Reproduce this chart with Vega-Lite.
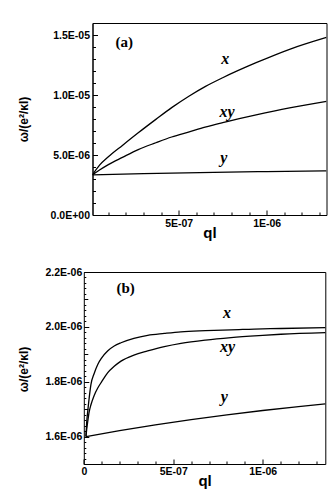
{
  "$schema": "https://vega.github.io/schema/vega-lite/v6.json",
  "background": "white",
  "padding": {"left": 16.5, "top": 22, "right": 0, "bottom": 0},
  "datasets": {
    "a": [
      {"q": 1e-8, "w": 3.35e-6, "s": "x"}, {"q": 5e-8, "w": 4.15e-6, "s": "x"}, {"q": 1e-7, "w": 4.85e-6, "s": "x"},
      {"q": 1.8e-7, "w": 5.8e-6, "s": "x"}, {"q": 2.7e-7, "w": 6.85e-6, "s": "x"}, {"q": 3.7e-7, "w": 7.97e-6, "s": "x"},
      {"q": 4.6e-7, "w": 8.95e-6, "s": "x"}, {"q": 5.6e-7, "w": 9.92e-6, "s": "x"}, {"q": 6.5e-7, "w": 1.07e-5, "s": "x"},
      {"q": 7.5e-7, "w": 1.144e-5, "s": "x"}, {"q": 9.4e-7, "w": 1.269e-5, "s": "x"}, {"q": 1.13e-6, "w": 1.381e-5, "s": "x"},
      {"q": 1.34e-6, "w": 1.48e-5, "s": "x"},
      {"q": 1e-8, "w": 3.35e-6, "s": "xy"}, {"q": 5e-8, "w": 3.75e-6, "s": "xy"}, {"q": 1e-7, "w": 4.2e-6, "s": "xy"},
      {"q": 1.8e-7, "w": 4.8e-6, "s": "xy"}, {"q": 2.7e-7, "w": 5.45e-6, "s": "xy"}, {"q": 3.7e-7, "w": 6.02e-6, "s": "xy"},
      {"q": 4.6e-7, "w": 6.5e-6, "s": "xy"}, {"q": 5.6e-7, "w": 6.93e-6, "s": "xy"}, {"q": 6.5e-7, "w": 7.32e-6, "s": "xy"},
      {"q": 7.5e-7, "w": 7.7e-6, "s": "xy"}, {"q": 9.4e-7, "w": 8.35e-6, "s": "xy"}, {"q": 1.13e-6, "w": 8.93e-6, "s": "xy"},
      {"q": 1.34e-6, "w": 9.47e-6, "s": "xy"},
      {"q": 1e-8, "w": 3.35e-6, "s": "y"}, {"q": 3e-7, "w": 3.45e-6, "s": "y"}, {"q": 7e-7, "w": 3.56e-6, "s": "y"},
      {"q": 1e-6, "w": 3.62e-6, "s": "y"}, {"q": 1.34e-6, "w": 3.68e-6, "s": "y"}
    ],
    "la": [
      {"q": 1.9e-7, "w": 1.44e-5, "t": "(a)", "k": "tag"},
      {"q": 7.65e-7, "w": 1.297e-5, "t": "x", "k": "c"},
      {"q": 7.75e-7, "w": 8.58e-6, "t": "xy", "k": "c"},
      {"q": 7.56e-7, "w": 4.78e-6, "t": "y", "k": "c"}
    ],
    "b": [
      {"q": 1.2e-8, "w": 1.6e-6, "s": "x"}, {"q": 1.6e-8, "w": 1.65e-6, "s": "x"}, {"q": 2.2e-8, "w": 1.692e-6, "s": "x"},
      {"q": 3e-8, "w": 1.74e-6, "s": "x"}, {"q": 4e-8, "w": 1.79e-6, "s": "x"}, {"q": 5.8e-8, "w": 1.83e-6, "s": "x"},
      {"q": 7.8e-8, "w": 1.863e-6, "s": "x"}, {"q": 1e-7, "w": 1.887e-6, "s": "x"}, {"q": 1.33e-7, "w": 1.912e-6, "s": "x"},
      {"q": 1.7e-7, "w": 1.93e-6, "s": "x"}, {"q": 2.08e-7, "w": 1.942e-6, "s": "x"}, {"q": 2.8e-7, "w": 1.958e-6, "s": "x"},
      {"q": 3.57e-7, "w": 1.969e-6, "s": "x"}, {"q": 4.5e-7, "w": 1.976e-6, "s": "x"}, {"q": 5.43e-7, "w": 1.982e-6, "s": "x"},
      {"q": 6.8e-7, "w": 1.986e-6, "s": "x"}, {"q": 8.23e-7, "w": 1.989e-6, "s": "x"}, {"q": 1e-6, "w": 1.993e-6, "s": "x"},
      {"q": 1.102e-6, "w": 1.994e-6, "s": "x"}, {"q": 1.35e-6, "w": 1.997e-6, "s": "x"},
      {"q": 1.2e-8, "w": 1.6e-6, "s": "xy"}, {"q": 1.6e-8, "w": 1.625e-6, "s": "xy"}, {"q": 2.2e-8, "w": 1.655e-6, "s": "xy"},
      {"q": 3e-8, "w": 1.69e-6, "s": "xy"}, {"q": 4e-8, "w": 1.716e-6, "s": "xy"}, {"q": 5.8e-8, "w": 1.75e-6, "s": "xy"},
      {"q": 7.8e-8, "w": 1.777e-6, "s": "xy"}, {"q": 1e-7, "w": 1.8e-6, "s": "xy"}, {"q": 1.33e-7, "w": 1.832e-6, "s": "xy"},
      {"q": 1.7e-7, "w": 1.856e-6, "s": "xy"}, {"q": 2.08e-7, "w": 1.875e-6, "s": "xy"}, {"q": 2.8e-7, "w": 1.897e-6, "s": "xy"},
      {"q": 3.57e-7, "w": 1.912e-6, "s": "xy"}, {"q": 4.5e-7, "w": 1.928e-6, "s": "xy"}, {"q": 5.43e-7, "w": 1.94e-6, "s": "xy"},
      {"q": 6.8e-7, "w": 1.952e-6, "s": "xy"}, {"q": 8.23e-7, "w": 1.961e-6, "s": "xy"}, {"q": 1e-6, "w": 1.969e-6, "s": "xy"},
      {"q": 1.102e-6, "w": 1.973e-6, "s": "xy"}, {"q": 1.35e-6, "w": 1.979e-6, "s": "xy"},
      {"q": 1.2e-8, "w": 1.6e-6, "s": "y"}, {"q": 2e-7, "w": 1.622e-6, "s": "y"}, {"q": 4e-7, "w": 1.643e-6, "s": "y"},
      {"q": 6e-7, "w": 1.662e-6, "s": "y"}, {"q": 8e-7, "w": 1.679e-6, "s": "y"}, {"q": 1e-6, "w": 1.695e-6, "s": "y"},
      {"q": 1.2e-6, "w": 1.709e-6, "s": "y"}, {"q": 1.35e-6, "w": 1.719e-6, "s": "y"}
    ],
    "lb": [
      {"q": 2.34e-7, "w": 2.14e-6, "t": "(b)", "k": "tag"},
      {"q": 8e-7, "w": 2.05e-6, "t": "x", "k": "c"},
      {"q": 8.04e-7, "w": 1.926e-6, "t": "xy", "k": "c"},
      {"q": 7.86e-7, "w": 1.745e-6, "t": "y", "k": "c"}
    ]
  },
  "concat": [
    {
      "width": 234,
      "height": 192,
      "resolve": {"axis": {"x": "independent", "y": "independent"}},
      "layer": [
        {
          "data": {"name": "a"},
          "mark": {"type": "line", "color": "black", "strokeWidth": 1.3, "interpolate": "monotone", "clip": true},
          "encoding": {
            "x": {"field": "q", "type": "quantitative", "scale": {"domain": [1e-8, 1.34e-6], "nice": false, "zero": false},
              "axis": {"orient": "bottom", "title": "ql", "titleFontSize": 15, "titlePadding": -3,
                "values": [5e-7, 1e-6],
                "labelExpr": "replace(format(datum.value, '.0e'), 'e-', 'E-0')",
                "tickSize": -5, "labelPadding": 8}},
            "y": {"field": "w", "type": "quantitative", "scale": {"domain": [0, 1.6e-5], "nice": false, "zero": false},
              "axis": {"orient": "left", "title": "ω/(e²/κl)", "titleFontSize": 12, "titleX": -62.5, "titleY": 96,
                "values": [0, 5e-6, 1e-5, 1.5e-5],
                "labelExpr": "replace(replace(format(datum.value, '.1e'), 'e-', 'E-0'), 'e+', 'E+0')",
                "tickSize": -5, "labelPadding": 8}},
            "detail": {"field": "s"}
          }
        },
        {
          "data": {"name": "la"},
          "transform": [{"filter": "datum.k == 'tag'"}],
          "mark": {"type": "text", "font": "Liberation Serif", "fontWeight": "bold", "fontSize": 15, "align": "center", "baseline": "middle", "color": "black"},
          "encoding": {
            "x": {"field": "q", "type": "quantitative",
              "axis": {"orient": "bottom", "title": null, "labels": false, "domain": false, "tickSize": -3,
                "values": [1e-7, 2e-7, 3e-7, 4e-7, 6e-7, 7e-7, 8e-7, 9e-7, 1.1e-6, 1.2e-6, 1.3e-6]}},
            "y": {"field": "w", "type": "quantitative",
              "axis": {"orient": "left", "title": null, "labels": false, "domain": false, "tickSize": -3,
                "values": [1e-6, 2e-6, 3e-6, 4e-6, 6e-6, 7e-6, 8e-6, 9e-6, 1.1e-5, 1.2e-5, 1.3e-5, 1.4e-5, 1.6e-5]}},
            "text": {"field": "t"}
          }
        },
        {
          "data": {"name": "la"},
          "transform": [{"filter": "datum.k == 'c'"}],
          "mark": {"type": "text", "font": "Liberation Serif", "fontWeight": "bold", "fontStyle": "italic", "fontSize": 16, "align": "center", "baseline": "middle", "color": "black"},
          "encoding": {"x": {"field": "q", "type": "quantitative", "axis": null}, "y": {"field": "w", "type": "quantitative", "axis": null}, "text": {"field": "t"}}
        }
      ]
    },
    {
      "width": 232.8,
      "height": 192,
      "view": {"stroke": null},
      "resolve": {"axis": {"x": "independent", "y": "independent"}},
      "layer": [
        {
          "data": {"name": "b"},
          "mark": {"type": "line", "color": "black", "strokeWidth": 1.3, "interpolate": "monotone", "clip": false},
          "encoding": {
            "x": {"field": "q", "type": "quantitative", "scale": {"domain": [0, 1.35e-6], "range": [-8.7, 232.8], "nice": false, "zero": false},
              "axis": {"orient": "bottom", "title": "ql", "titleFontSize": 15, "titlePadding": -3,
                "values": [0, 5e-7, 1e-6],
                "labelExpr": "datum.value == 0 ? '0' : replace(format(datum.value, '.0e'), 'e-', 'E-0')",
                "tickSize": -5, "labelPadding": 7}},
            "y": {"field": "w", "type": "quantitative", "scale": {"domain": [1.5e-6, 2.2e-6], "nice": false, "zero": false},
              "axis": {"orient": "left", "offset": 8.7, "title": "ω/(e²/κl)", "titleFontSize": 12, "titleX": -53.8, "titleY": 97,
                "values": [1.6e-6, 1.8e-6, 2e-6, 2.2e-6],
                "labelExpr": "replace(format(datum.value, '.1e'), 'e-', 'E-0')",
                "tickSize": -5, "labelPadding": 7}},
            "detail": {"field": "s"}
          }
        },
        {
          "data": {"name": "lb"},
          "transform": [{"filter": "datum.k == 'tag'"}],
          "mark": {"type": "text", "font": "Liberation Serif", "fontWeight": "bold", "fontSize": 15, "align": "center", "baseline": "middle", "color": "black"},
          "encoding": {
            "x": {"field": "q", "type": "quantitative",
              "axis": {"orient": "bottom", "title": null, "labels": false, "domain": false, "tickSize": -3,
                "values": [1e-7, 2e-7, 3e-7, 4e-7, 6e-7, 7e-7, 8e-7, 9e-7, 1.1e-6, 1.2e-6, 1.3e-6]}},
            "y": {"field": "w", "type": "quantitative",
              "axis": {"orient": "left", "offset": 8.7, "title": null, "labels": false, "domain": false,
                "values": [1.5e-6, 1.52e-6, 1.54e-6, 1.56e-6, 1.58e-6, 1.62e-6, 1.64e-6, 1.66e-6, 1.68e-6, 1.7e-6, 1.72e-6, 1.74e-6, 1.76e-6, 1.78e-6, 1.82e-6, 1.84e-6, 1.86e-6, 1.88e-6, 1.9e-6, 1.92e-6, 1.94e-6, 1.96e-6, 1.98e-6, 2.02e-6, 2.04e-6, 2.06e-6, 2.08e-6, 2.1e-6, 2.12e-6, 2.14e-6, 2.16e-6, 2.18e-6],
                "tickSize": {"condition": {"test": "abs(datum.value/1e-7 - round(datum.value/1e-7)) < 0.01", "value": -4}, "value": -2}}},
            "text": {"field": "t"}
          }
        },
        {
          "data": {"name": "lb"},
          "transform": [{"filter": "datum.k == 'c'"}],
          "mark": {"type": "text", "font": "Liberation Serif", "fontWeight": "bold", "fontStyle": "italic", "fontSize": 16, "align": "center", "baseline": "middle", "color": "black"},
          "encoding": {
            "x": {"field": "q", "type": "quantitative", "axis": {"orient": "top", "title": null, "labels": false, "ticks": false, "domain": true}},
            "y": {"field": "w", "type": "quantitative", "axis": {"orient": "right", "title": null, "labels": false, "ticks": false, "domain": true}},
            "text": {"field": "t"}
          }
        }
      ]
    }
  ],
  "columns": 1,
  "spacing": 26,
  "config": {
    "view": {"stroke": "black", "strokeWidth": 1},
    "axis": {"domainColor": "black", "tickColor": "black", "labelColor": "black", "titleColor": "black", "grid": false,
      "labelFont": "Liberation Sans", "labelFontSize": 10.5, "labelFontWeight": "bold", "titleFont": "Liberation Sans", "titleFontWeight": "bold",
      "labelFlush": false, "labelOverlap": false, "tickWidth": 1, "domainWidth": 1}
  }
}
